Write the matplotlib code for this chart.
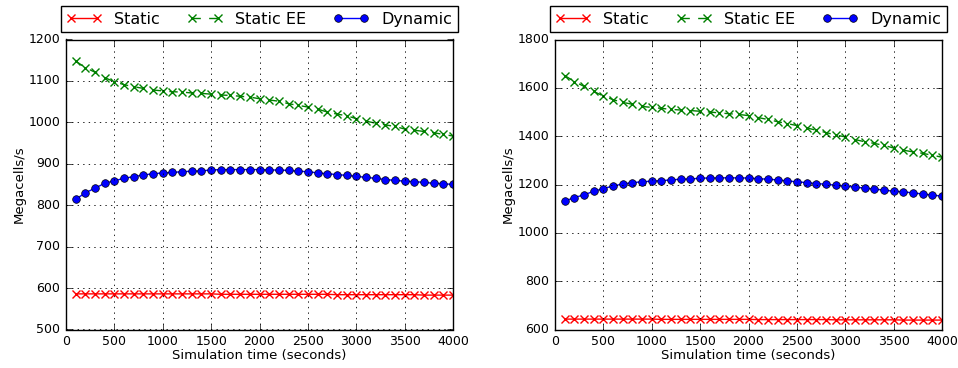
import numpy as np
import matplotlib
matplotlib.use("Agg")
import matplotlib.pyplot as plt

plt.style.use("classic")
plt.rcParams["figure.facecolor"] = "white"
plt.rcParams["savefig.facecolor"] = "white"
plt.rcParams["font.family"] = ["DejaVu Sans"]

# simulation time, one sample every 100 s
sim_time = np.arange(100, 4001, 100)

# left panel
static_a = [586, 586, 586, 586, 586, 586, 586, 586, 586, 586,
            586, 586, 586, 586, 586, 585, 585, 585, 585, 585,
            585, 585, 585, 585, 585, 585, 585, 584, 584, 584,
            584, 584, 584, 584, 584, 584, 583, 583, 583, 583]
static_ee_a = [1148, 1132, 1121, 1108, 1098, 1091, 1086, 1082, 1078, 1076,
               1074, 1073, 1071, 1070, 1068, 1066, 1065, 1063, 1061, 1057,
               1054, 1051, 1045, 1041, 1037, 1032, 1025, 1020, 1016, 1009,
               1003, 998, 994, 990, 984, 981, 978, 975, 971, 967]
dynamic_a = [814, 830, 841, 853, 859, 865, 869, 873, 876, 878,
             879, 881, 882, 883, 885, 886, 886, 886, 886, 886,
             885, 885, 884, 882, 881, 878, 876, 874, 872, 870,
             867, 865, 862, 860, 858, 857, 855, 853, 852, 850]

# right panel
static_b = [643, 643, 643, 643, 643, 643, 643, 643, 643, 643,
            642, 642, 642, 642, 642, 642, 642, 642, 642, 642,
            641, 641, 641, 641, 641, 641, 641, 641, 640, 640,
            640, 640, 640, 640, 640, 639, 639, 639, 639, 639]
static_ee_b = [1651, 1626, 1606, 1585, 1566, 1551, 1540, 1532, 1523, 1519,
               1515, 1511, 1508, 1506, 1503, 1500, 1496, 1493, 1490, 1485,
               1477, 1469, 1460, 1452, 1444, 1434, 1425, 1415, 1405, 1397,
               1386, 1377, 1370, 1362, 1351, 1342, 1335, 1329, 1321, 1313]
dynamic_b = [1131, 1146, 1157, 1172, 1183, 1194, 1202, 1208, 1211, 1214,
             1216, 1219, 1222, 1223, 1226, 1227, 1227, 1228, 1227, 1227,
             1224, 1222, 1219, 1215, 1211, 1208, 1204, 1201, 1197, 1193,
             1189, 1185, 1181, 1177, 1172, 1170, 1165, 1161, 1156, 1152]

panels = [
    (static_a, static_ee_a, dynamic_a, (500, 1200), np.arange(500, 1201, 100)),
    (static_b, static_ee_b, dynamic_b, (600, 1800), np.arange(600, 1801, 200)),
]

fig = plt.figure(figsize=(9.58, 3.68), dpi=100)
lefts = [66 / 958, 555 / 958]

for left, (st, ee, dyn, ylim, yticks) in zip(lefts, panels):
    ax = fig.add_axes([left, 1 - 329.5 / 368, 387 / 958, 290 / 368])
    ax.plot(sim_time, st, "r-", marker="x", markersize=6, markeredgewidth=1,
            lw=1, label="Static")
    ax.plot(sim_time, ee, "g--", marker="x", markersize=6, markeredgewidth=1,
            lw=1, label="Static EE")
    ax.plot(sim_time, dyn, "b-", marker="o", markersize=5.5, markeredgewidth=0.5,
            markeredgecolor="k", lw=1, label="Dynamic")
    ax.set_xlim(0, 4000)
    ax.set_ylim(*ylim)
    ax.set_xticks(np.arange(0, 4001, 500))
    ax.set_yticks(yticks)
    ax.tick_params(labelsize=9)
    ax.grid(True, linestyle=":", color="k", lw=0.6)
    ax.set_xlabel("Simulation time (seconds)", fontsize=9.5, labelpad=1)
    ax.set_ylabel("Megacells/s", fontsize=9.5, labelpad=2)
    ax.legend(loc="lower left", bbox_to_anchor=(-0.013, 1.025, 1.026, 0.1),
              mode="expand", ncol=3, borderaxespad=0, fontsize=11.5,
              numpoints=2, handlelength=2.2, fancybox=False, frameon=True,
              borderpad=0.35, handletextpad=0.8)

fig.savefig("out.png", dpi=100)
